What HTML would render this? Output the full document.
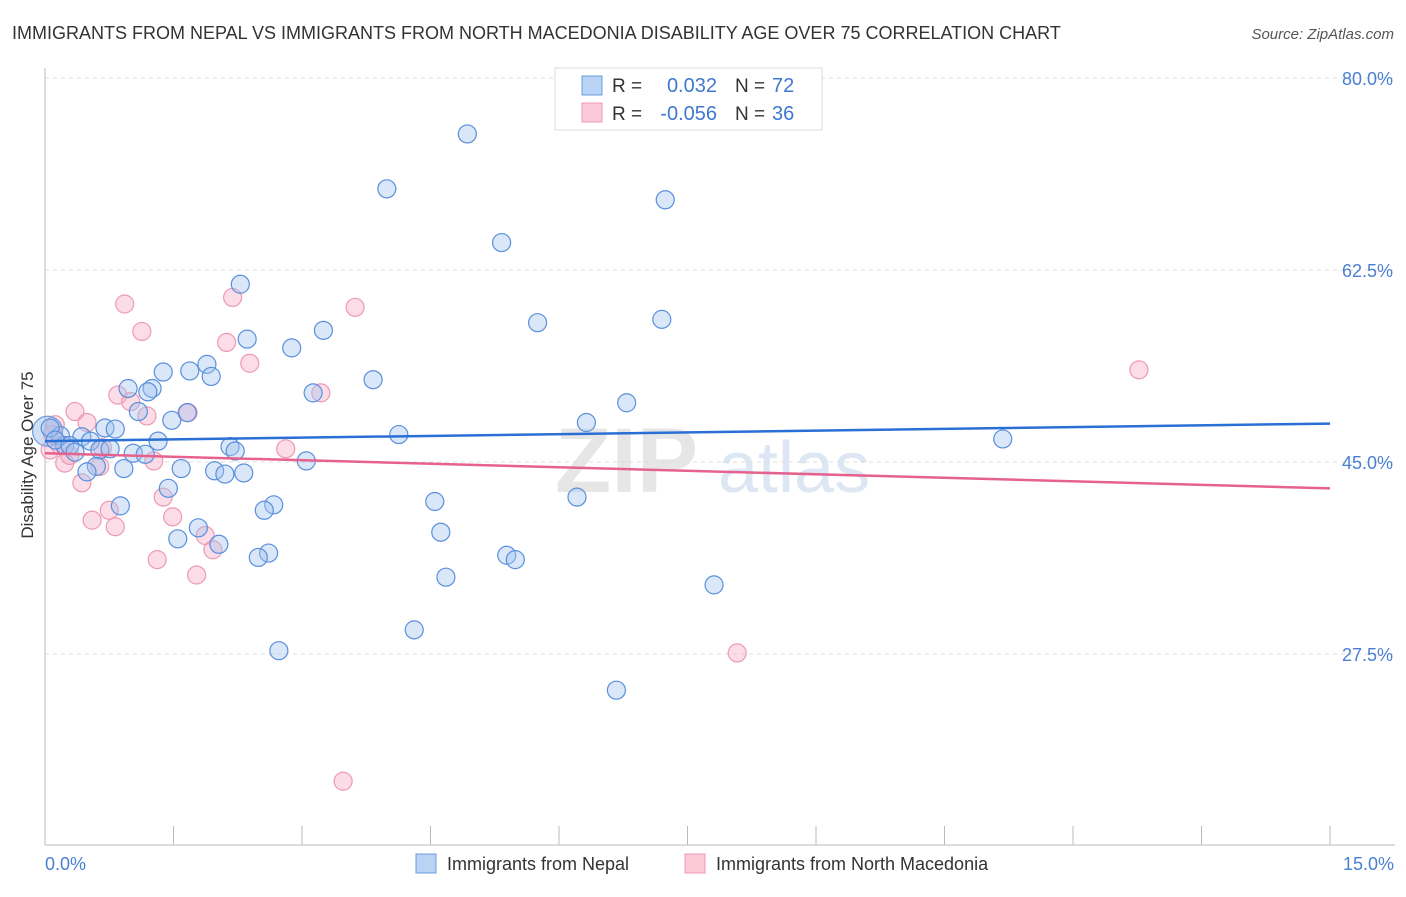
<!DOCTYPE html>
<html><head><meta charset="utf-8">
<style>
body{margin:0;background:#fff;font-family:"Liberation Sans",sans-serif;}
svg text{font-family:"Liberation Sans",sans-serif;}
</style></head>
<body>
<svg id="chart" width="1406" height="892" viewBox="0 0 1406 892" xmlns="http://www.w3.org/2000/svg">
<text x="12" y="39" font-size="18" fill="#333">IMMIGRANTS FROM NEPAL VS IMMIGRANTS FROM NORTH MACEDONIA DISABILITY AGE OVER 75 CORRELATION CHART</text>
<text x="1394" y="39" font-size="15" fill="#555" font-style="italic" text-anchor="end">Source: ZipAtlas.com</text>
<g>
<text x="555" y="492" font-size="92" fill="#e6e6e6" font-family="Liberation Serif" font-weight="bold">ZIP</text>
<text x="718" y="492" font-size="72" fill="#dde7f4">atlas</text>
</g>
<g id="grid"></g>
<g id="axes"></g>
<g id="pink-points"></g>
<g id="blue-points"></g>
<g id="trends"></g>
<text transform="translate(33,455) rotate(-90)" font-size="17" fill="#333" text-anchor="middle">Disability Age Over 75</text>
<text x="45" y="870" font-size="18" fill="#4a7fd4">0.0%</text>
<text x="1394" y="870" font-size="18" fill="#4a7fd4" text-anchor="end">15.0%</text>
<g>
<rect x="555" y="68" width="267" height="62" fill="#fff" stroke="#ddd"/>
<rect x="582" y="76" width="20" height="19" fill="#b9d3f5" stroke="#6a9de0"/>
<rect x="582" y="103" width="20" height="19" fill="#fcc9d8" stroke="#ee9ab4"/>
<text x="612" y="92" font-size="19" fill="#333">R =</text>
<text x="717" y="92" font-size="20" fill="#3f78cf" text-anchor="end">0.032</text>
<text x="735" y="92" font-size="19" fill="#333">N =</text>
<text x="772" y="92" font-size="20" fill="#3f78cf">72</text>
<text x="612" y="120" font-size="19" fill="#333">R =</text>
<text x="717" y="120" font-size="20" fill="#3f78cf" text-anchor="end">-0.056</text>
<text x="735" y="120" font-size="19" fill="#333">N =</text>
<text x="772" y="120" font-size="20" fill="#3f78cf">36</text>
</g>
<g>
<rect x="416" y="854" width="20" height="19" fill="#b9d3f5" stroke="#6a9de0"/>
<text x="447" y="870" font-size="18" fill="#333">Immigrants from Nepal</text>
<rect x="685" y="854" width="20" height="19" fill="#fcc9d8" stroke="#ee9ab4"/>
<text x="716" y="870" font-size="18" fill="#333">Immigrants from North Macedonia</text>
</g>
</svg>
<script>
const yTicks=[80,62.5,45,27.5];
const yTickLabels=["80.0%","62.5%","45.0%","27.5%"];
const xTicks=[0,1.5,3,4.5,6,7.5,9,10.5,12,13.5,15];
const nepalX=[4.93,3.99,7.24,5.33,2.28,5.75,7.20,3.25,2.36,2.88,1.89,1.69,1.38,1.94,3.83,0.97,1.25,1.20,3.13,6.79,1.09,1.66,1.48,6.32,0.70,0.82,11.18,4.13,1.32,2.16,2.22,0.43,0.53,0.18,0.23,0.64,0.76,1.03,1.17,3.05,0.60,0.92,1.59,1.98,2.10,2.32,0.49,1.44,4.55,6.21,2.67,2.56,0.88,1.79,4.62,1.55,2.03,5.39,5.49,2.61,2.49,4.68,7.81,4.31,2.73,6.67,0.06,0.12,0.29,0.35];
const nepalY=[74.9,69.9,68.9,65.0,61.2,57.7,58.0,57.0,56.2,55.4,53.9,53.3,53.2,52.8,52.5,51.7,51.7,51.4,51.3,50.4,49.6,49.5,48.8,48.6,48.1,48.0,47.1,47.5,46.9,46.4,46.0,47.3,46.9,47.4,46.5,46.1,46.2,45.8,45.7,45.1,44.6,44.4,44.4,44.2,43.9,44.0,44.1,42.6,41.4,41.8,41.1,40.6,41.0,39.0,38.6,38.0,37.5,36.5,36.1,36.7,36.3,34.5,33.8,29.7,27.8,24.2,48.1,47.0,46.5,45.9];
const macX=[0.93,2.19,3.62,1.13,2.12,2.39,0.85,1.00,1.19,1.67,0.35,0.49,3.22,2.81,12.77,0.12,0.18,0.23,0.43,0.64,1.27,1.38,0.75,0.55,0.82,1.49,1.87,1.96,1.31,1.77,8.08,3.48,0.06,0.09,0.29,0.67];
const macY=[59.4,60.0,59.1,56.9,55.9,54.0,51.1,50.5,49.2,49.5,49.6,48.6,51.3,46.2,53.4,48.4,46.5,44.9,43.1,44.6,45.1,41.8,40.6,39.7,39.1,40.0,38.3,37.0,36.1,34.7,27.6,15.9,46.1,47.5,45.6,46.3];
const nepalTrend=[46.9,48.5];
const macTrend=[45.8,42.6];
const X0=45,X1=1330,Ytop=78,Ybot=654;
function sx(v){return X0+(v/15)*(X1-X0);}
function sy(v){return Ytop+(80-v)/(80-27.5)*(Ybot-Ytop);}
const NS="http://www.w3.org/2000/svg";
function mk(tag,attrs,parent){const e=document.createElementNS(NS,tag);for(const k in attrs)e.setAttribute(k,attrs[k]);parent.appendChild(e);return e;}
const grid=document.getElementById('grid');
yTicks.forEach((t,i)=>{
  const l=mk('line',{x1:45,x2:1395,y1:sy(t),y2:sy(t),stroke:'#ddd','stroke-dasharray':'4,4'},grid);
  
  
  const tx=mk('text',{x:1393,y:sy(t)+7,'font-size':18,fill:'#4a7fd4','text-anchor':'end'},grid);
  tx.textContent=yTickLabels[i];
  
  
});
const axes=document.getElementById('axes');
const ya=mk('line',{x1:45,x2:45,y1:68,y2:845,stroke:'#bbb'},axes);


const xa=mk('line',{x1:45,x2:1395,y1:845,y2:845,stroke:'#bbb'},axes);


xTicks.forEach(t=>{
  const l=mk('line',{x1:sx(t),x2:sx(t),y1:826,y2:845,stroke:'#bbb'},axes);
  
  
});
const pg=document.getElementById('pink-points');
macX.forEach((v,i)=>{
  const c=mk('circle',{cx:sx(v),cy:sy(macY[i]),r:9,fill:'rgba(248,170,195,0.4)',stroke:'#ec9ab3','stroke-width':1.2},pg);
  
  
});
const bg=document.getElementById('blue-points');
const big=mk('circle',{cx:sx(0.03),cy:sy(47.8),r:15,fill:'rgba(150,185,235,0.45)',stroke:'#6a9de0','stroke-width':1.2},bg);


nepalX.forEach((v,i)=>{
  const c=mk('circle',{cx:sx(v),cy:sy(nepalY[i]),r:9,fill:'rgba(160,195,240,0.4)',stroke:'#5a8fdc','stroke-width':1.2},bg);
  
  
});
const tg=document.getElementById('trends');
const bt=mk('line',{x1:sx(0),x2:sx(15),y1:sy(nepalTrend[0]),y2:sy(nepalTrend[1]),stroke:'#2a6fd6','stroke-width':2.5},tg);


const pt=mk('line',{x1:sx(0),x2:sx(15),y1:sy(macTrend[0]),y2:sy(macTrend[1]),stroke:'#e6628e','stroke-width':2.5},tg);


</script>
</body></html>
